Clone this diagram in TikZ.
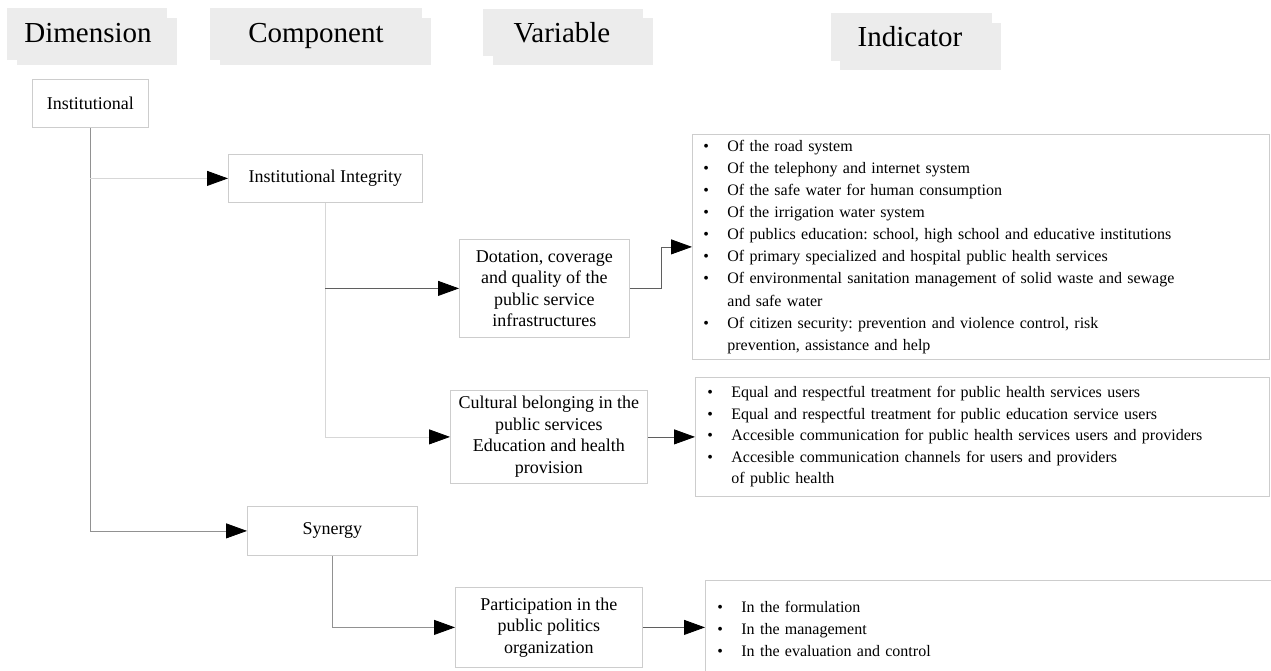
\documentclass[tikz,border=0pt]{standalone}
\usepackage{fontspec}
\setmainfont{Liberation Serif}
\usetikzlibrary{arrows.meta}
\frenchspacing

\definecolor{hdrgray}{RGB}{236,236,236}
\definecolor{edgegray}{RGB}{205,205,205}
\definecolor{linegray}{RGB}{145,145,145}
\definecolor{palegray}{RGB}{215,215,215}
\definecolor{darkline}{RGB}{95,95,95}

% one bulleted line and its indented continuation
\newcommand\bul{\makebox[24pt][l]{\textbullet}}
\newcommand\cont{\hspace*{24pt}}

\tikzset{
  hdrfill/.style={fill=hdrgray, draw=none},
  hdrtext/.style={anchor=base, inner sep=0pt, font=\fontsize{29}{33}\selectfont},
  stepbox/.style={draw=edgegray, fill=white, line width=0.8pt, anchor=north west,
    inner sep=0pt, align=center, font=\fontsize{18}{21.5}\selectfont},
  listbox/.style={draw=edgegray, fill=white, line width=0.8pt, anchor=north west,
    inner ysep=0pt, align=left},
  conn/.style={draw=linegray, line width=0.8pt, -{Triangle[length=21pt,width=15pt,fill=black,color=black]}},
}

\begin{document}
\begin{tikzpicture}[x=1pt, y=-1pt]
\useasboundingbox (0,0) rectangle (1271,671);

% column headers: two offset grey panels under each title
\fill[hdrfill] (7,8) rectangle (167,60);
\fill[hdrfill] (17,18) rectangle (177,65);
\node[hdrtext] (hdim) at (88,43) {Dimension};

\fill[hdrfill] (210,8) rectangle (422,60);
\fill[hdrfill] (220,18) rectangle (431,65);
\node[hdrtext] (hcomp) at (316,43) {Component};

\fill[hdrfill] (483,9) rectangle (643,56);
\fill[hdrfill] (493,18) rectangle (653,65);
\node[hdrtext] (hvar) at (562,43) {Variable};

\fill[hdrfill] (831,13) rectangle (992,61);
\fill[hdrfill] (840,23) rectangle (1001,70);
\node[hdrtext] (hind) at (910,47) {Indicator};

% dimension / component / variable boxes
\node[stepbox, minimum width=116, minimum height=48] (inst) at (32,79) {Institutional};
\node[stepbox, minimum width=194, minimum height=48] (integ) at (228,154) {Institutional Integrity};
\node[stepbox, minimum width=170, minimum height=98] (dot) at (459,239)
  {Dotation, coverage\\and quality of the\\public service\\infrastructures};
\node[stepbox, minimum width=197, minimum height=93] (cult) at (450,390)
  {Cultural belonging in the\\public services\\Education and health\\provision};
\node[stepbox, minimum width=170, minimum height=49] (syn) at (247,506) {Synergy};
\node[stepbox, minimum width=187, minimum height=80] (part) at (455,587)
  {Participation in the\\public politics\\organization};

% indicator lists
\node[listbox, inner xsep=11pt, text width=555pt, minimum height=225,
      font=\fontsize{16}{22.1}\selectfont] (ind1) at (692,134)
  {\bul Of the road system\\
   \bul Of the telephony and internet system\\
   \bul Of the safe water for human consumption\\
   \bul Of the irrigation water system\\
   \bul Of publics education: school, high school and educative institutions\\
   \bul Of primary specialized and hospital public health services\\
   \bul Of environmental sanitation management of solid waste and sewage\\
   \cont and safe water\\
   \bul Of citizen security: prevention and violence control, risk\\
   \cont prevention, assistance and help};

\node[listbox, inner xsep=12pt, text width=550pt, minimum height=119,
      font=\fontsize{16}{21.5}\selectfont] (ind2) at (695,377)
  {\bul Equal and respectful treatment for public health services users\\
   \bul Equal and respectful treatment for public education service users\\
   \bul Accesible communication for public health services users and providers\\
   \bul Accesible communication channels for users and providers\\
   \cont of public health};

\node[listbox, inner xsep=12pt, text width=556pt, minimum height=97,
      font=\fontsize{16}{22}\selectfont] (ind3) at (705,580)
  {\bul In the formulation\\
   \bul In the management\\
   \bul In the evaluation and control};

% connectors
\draw[conn] (inst.south) |- (syn.west);
\draw[conn, draw=palegray] (inst.south |- integ.west) -- (integ.west);
\draw[conn, draw=palegray] (integ.south) |- (cult.west);
\draw[conn, draw=darkline] (integ.south |- dot.west) -- (dot.west);
\draw[conn, draw=darkline] (dot.east) -- ++(32,0) |- (ind1.west);
\draw[conn, draw=darkline] (cult.east) -- (ind2.west |- cult.east);
\draw[conn] (syn.south) |- (part.west);
\draw[conn, draw=darkline] (part.east) -- (ind3.west |- part.east);
\end{tikzpicture}
\end{document}
